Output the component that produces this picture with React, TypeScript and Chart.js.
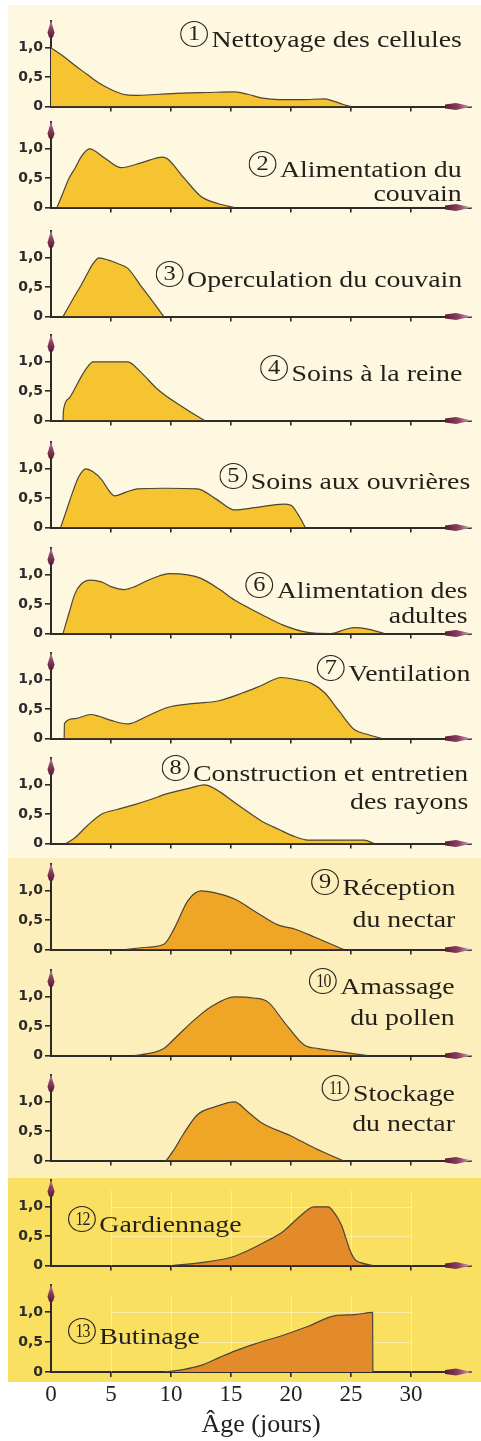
import React, { useEffect, useRef } from "react";
import { Chart, registerables } from "chart.js";

Chart.register(...registerables);

// ---------- data ----------
const xTicks = [0, 5, 10, 15, 20, 25, 30];
const yTicks = [0, 0.5, 1];
const xAxisTitle = "Âge (jours)";

const ageCleaning = [0, 1, 2, 3, 4, 5, 6, 7, 9, 11, 13, 15.3, 16.4, 17.5, 19, 21, 22.8, 23.6, 24.3, 25];
const cleaning = [1, 0.86, 0.7, 0.55, 0.4, 0.29, 0.21, 0.19, 0.21, 0.23, 0.24, 0.25, 0.21, 0.15, 0.12, 0.12, 0.13, 0.09, 0.04, 0];

const ageBroodFeeding = [0.5, 1, 1.5, 2, 2.5, 3.2, 4.5, 5.8, 7.5, 9.3, 9.7, 11.1, 12.5, 13.9, 15.3];
const broodFeeding = [0, 0.25, 0.5, 0.67, 0.86, 1.0, 0.84, 0.68, 0.76, 0.86, 0.83, 0.5, 0.19, 0.07, 0];

const ageCapping = [1, 1.5, 2, 2.5, 3, 3.5, 4, 4.8, 5.6, 6.4, 7.5, 8.5, 9.4];
const capping = [0, 0.18, 0.36, 0.53, 0.72, 0.9, 1.0, 0.96, 0.9, 0.82, 0.52, 0.25, 0];

const ageQueenCare = [1, 1.05, 1.5, 2, 2.5, 3, 3.5, 6.4, 7.5, 8.9, 10.9, 12.8];
const queenCare = [0, 0.19, 0.38, 0.55, 0.74, 0.9, 1.0, 1.0, 0.82, 0.53, 0.24, 0];

const ageWorkerCare = [0.8, 1.3, 1.8, 2.3, 2.9, 3.5, 4.2, 4.9, 5.3, 6.2, 7.2, 9.5, 12.2, 13.8, 15.3, 17, 19.4, 20, 20.6, 21.2];
const workerCare = [0, 0.3, 0.6, 0.86, 1.0, 0.95, 0.82, 0.61, 0.54, 0.6, 0.66, 0.67, 0.66, 0.48, 0.3, 0.34, 0.4, 0.38, 0.22, 0];

const ageAdultFeeding = [1, 1.5, 2, 2.5, 3.3, 4.2, 5, 6.1, 7, 8, 9, 9.8, 11.4, 12.5, 14, 15.3, 17.5, 19.4, 21.4, 23.3, 24.5, 25.3, 26.3, 27.8];
const adultFeeding = [0, 0.35, 0.68, 0.84, 0.91, 0.88, 0.8, 0.75, 0.8, 0.9, 0.98, 1.02, 1.0, 0.94, 0.76, 0.57, 0.33, 0.14, 0.02, 0, 0.07, 0.1, 0.08, 0];

const ageVentilation = [1.1, 1.12, 2, 3.3, 4, 5, 6.4, 8, 9.7, 12, 13.9, 16, 17.5, 19.2, 20.5, 21.7, 22.8, 24, 25.3, 26.4, 27.6];
const ventilation = [0, 0.26, 0.34, 0.41, 0.38, 0.31, 0.25, 0.38, 0.53, 0.6, 0.64, 0.78, 0.9, 1.04, 1.0, 0.94, 0.78, 0.47, 0.15, 0.07, 0];

const ageComb = [1.25, 2, 3, 4.2, 5.5, 6.9, 8.3, 9.7, 11.3, 12.8, 13.6, 15.5, 17.5, 19, 20.3, 21.4, 26.1, 26.9];
const comb = [0, 0.1, 0.3, 0.5, 0.58, 0.66, 0.75, 0.85, 0.93, 1.0, 0.94, 0.67, 0.39, 0.24, 0.12, 0.06, 0.06, 0];

const ageNectarReception = [6.1, 8, 9.4, 10.3, 11.4, 12.5, 13.6, 15.3, 17, 18.9, 20.3, 22, 24.4];
const nectarReception = [0, 0.04, 0.09, 0.37, 0.83, 1.0, 0.97, 0.86, 0.65, 0.42, 0.35, 0.21, 0];

const agePollenPacking = [6.9, 8.5, 9.4, 10.5, 11.9, 13.4, 15.3, 16.9, 18.1, 19.4, 21.1, 22.3, 23.6, 26.4];
const pollenPacking = [0, 0.05, 0.12, 0.33, 0.6, 0.84, 1.0, 0.98, 0.91, 0.58, 0.18, 0.12, 0.08, 0];

const ageNectarStorage = [9.6, 10.3, 11, 12.2, 13.6, 15.3, 16.3, 17.5, 20, 22, 24.3];
const nectarStorage = [0, 0.2, 0.44, 0.78, 0.91, 1.0, 0.85, 0.65, 0.42, 0.21, 0];

const ageGuarding = [10.1, 12.5, 15.3, 18.1, 19.4, 20.8, 21.9, 23.1, 23.6, 24.2, 24.6, 24.9, 25.3, 25.8, 26.9];
const guarding = [0, 0.05, 0.16, 0.43, 0.59, 0.85, 1.0, 1.0, 0.9, 0.69, 0.45, 0.27, 0.11, 0.05, 0];

const ageForaging = [9.4, 11, 12.5, 14, 15.3, 17, 19.4, 21.5, 23.6, 25.3, 26.8, 26.82];
const foraging = [0, 0.04, 0.11, 0.24, 0.35, 0.47, 0.62, 0.77, 0.94, 0.96, 1.0, 0];

const taskTitles: string[][] = [
  ["Nettoyage des cellules"],
  ["Alimentation du", "couvain"],
  ["Operculation du couvain"],
  ["Soins à la reine"],
  ["Soins aux ouvrières"],
  ["Alimentation des", "adultes"],
  ["Ventilation"],
  ["Construction et entretien", "des rayons"],
  ["Réception", "du nectar"],
  ["Amassage", "du pollen"],
  ["Stockage", "du nectar"],
  ["Gardiennage"],
  ["Butinage"],
];

const taskAges = [
  ageCleaning, ageBroodFeeding, ageCapping, ageQueenCare, ageWorkerCare, ageAdultFeeding,
  ageVentilation, ageComb, ageNectarReception, agePollenPacking, ageNectarStorage, ageGuarding, ageForaging,
];
const taskValues = [
  cleaning, broodFeeding, capping, queenCare, workerCare, adultFeeding,
  ventilation, comb, nectarReception, pollenPacking, nectarStorage, guarding, foraging,
];

// ---------- layout / style ----------
const W = 481;
const H = 1441;
const baselines = [107.5, 209, 317.5, 422, 529, 635, 739.5, 844.5, 950.5, 1056.5, 1161.5, 1266.5, 1372];
const toneOf = [0, 0, 0, 0, 0, 0, 0, 0, 1, 1, 1, 2, 2];
const fillColors = ["#f6c430", "#efa626", "#e38b2a"];
const bands = [
  { top: 5, bottom: 858, color: "#fdf8df" },
  { top: 858, bottom: 1178, color: "#fcefbb" },
  { top: 1178, bottom: 1382, color: "#f9e060" },
];
const labelBaselines = [43, 171, 283, 377, 485, 593, 677, 777, 893, 992, 1098, 1228, 1340];
const labelGaps = [28, 24, 28, 28, 28, 25, 28, 28, 32, 31, 30, 28, 28];
const labelRight = [462, 462, 462, 462, 470, 468, 470, 468, 455, 455, 455, 0, 0];
const labelLeft = [0, 0, 0, 0, 0, 0, 0, 0, 0, 0, 0, 68, 68];

const AXIS = "#2e2a2a";
const SERIF = '"Liberation Serif", "Times New Roman", serif';

const arrowPlugin = {
  id: "axisArrows",
  afterDraw(chart: any) {
    const { ctx, chartArea } = chart;
    const { left, right, top, bottom } = chartArea;
    ctx.save();
    // x arrow
    const gx = ctx.createLinearGradient(right - 26, 0, right, 0);
    gx.addColorStop(0, "#5e1a34");
    gx.addColorStop(0.55, "#8c4466");
    gx.addColorStop(1, "#cdb2bf");
    ctx.fillStyle = gx;
    ctx.beginPath();
    ctx.moveTo(right + 1, bottom);
    ctx.lineTo(right - 15, bottom - 3.5);
    ctx.lineTo(right - 26, bottom - 2);
    ctx.lineTo(right - 26, bottom + 2);
    ctx.lineTo(right - 15, bottom + 3.5);
    ctx.closePath();
    ctx.fill();
    // y arrow
    const gy = ctx.createLinearGradient(0, top + 16, 0, top);
    gy.addColorStop(0, "#5e1a34");
    gy.addColorStop(0.6, "#8c4466");
    gy.addColorStop(1, "#b88aa2");
    ctx.fillStyle = gy;
    ctx.beginPath();
    ctx.moveTo(left, top - 1);
    ctx.lineTo(left + 3.5, top + 11);
    ctx.lineTo(left + 2, top + 16);
    ctx.lineTo(left - 2, top + 16);
    ctx.lineTo(left - 3.5, top + 11);
    ctx.closePath();
    ctx.fill();
    ctx.restore();
  },
};

const faintGridPlugin = {
  id: "faintGrid",
  beforeDatasetsDraw(chart: any, _args: any, opts: any) {
    if (!opts || !opts.show) return;
    const { ctx, chartArea, scales } = chart;
    ctx.save();
    ctx.strokeStyle = "rgba(255,255,255,0.45)";
    ctx.lineWidth = 1;
    const x0 = scales.x.getPixelForValue(5);
    const x1 = scales.x.getPixelForValue(30);
    xTicks.filter((v) => v > 0).forEach((v) => {
      const px = Math.round(scales.x.getPixelForValue(v)) + 0.5;
      ctx.beginPath();
      ctx.moveTo(px, chartArea.top + 10);
      ctx.lineTo(px, chartArea.bottom);
      ctx.stroke();
    });
    yTicks.filter((v) => v > 0).forEach((v) => {
      const py = Math.round(scales.y.getPixelForValue(v)) + 0.5;
      ctx.beginPath();
      ctx.moveTo(x0, py);
      ctx.lineTo(x1, py);
      ctx.stroke();
    });
    ctx.restore();
  },
};

function Panel({ index }: { index: number }) {
  const ref = useRef<HTMLCanvasElement | null>(null);
  const isLast = index === taskTitles.length - 1;
  const top = Math.round(baselines[index]) - 97;
  const height = isLast ? H - top : 106;

  useEffect(() => {
    if (!ref.current) return;
    const ages = taskAges[index];
    const values = taskValues[index];
    const chart = new Chart(ref.current, {
      type: "line",
      data: {
        datasets: [
          {
            data: ages.map((a, k) => ({ x: a, y: values[k] })),
            fill: "origin",
            backgroundColor: fillColors[toneOf[index]],
            borderColor: "#4d4536",
            borderWidth: 1.2,
            pointRadius: 0,
            cubicInterpolationMode: "monotone",
          },
        ],
      },
      options: {
        animation: false,
        responsive: false,
        events: [],
        layout: { padding: { top: 6, right: 10, left: 0, bottom: 0 } },
        plugins: {
          legend: { display: false },
          tooltip: { enabled: false },
          faintGrid: { show: toneOf[index] === 2 },
        } as any,
        scales: {
          x: {
            type: "linear",
            min: 0,
            max: 35,
            z: 1,
            afterBuildTicks: (s: any) => {
              s.ticks = xTicks.map((v) => ({ value: v }));
            },
            afterFit: (s: any) => {
              s.height = isLast ? height - 97 : 9;
            },
            grid: {
              drawOnChartArea: false,
              tickLength: 5,
              lineWidth: 1.6,
              color: (c: any) => (c.tick && c.tick.value === 0 ? "rgba(0,0,0,0)" : AXIS),
            },
            border: { display: true, color: AXIS, width: 2 },
            ticks: {
              display: isLast,
              padding: 4,
              autoSkip: false,
              maxRotation: 0,
              color: "#222",
              font: { family: SERIF, size: 23 },
              callback: (v: any) => String(v),
            },
            title: {
              display: isLast,
              text: xAxisTitle,
              color: "#222",
              font: { family: SERIF, size: 26 },
              padding: { top: 0, bottom: 0 },
            },
          },
          y: {
            type: "linear",
            min: 0,
            max: 1.45,
            z: 1,
            afterBuildTicks: (s: any) => {
              s.ticks = yTicks.map((v) => ({ value: v }));
            },
            afterFit: (s: any) => {
              s.width = 51;
            },
            grid: { drawOnChartArea: false, tickLength: 6, lineWidth: 1.6, color: AXIS },
            border: { display: true, color: AXIS, width: 2 },
            ticks: {
              padding: 2,
              color: "#2b2b2b",
              font: { family: '"DejaVu Sans", sans-serif', size: 14, weight: "bold" },
              callback: (v: any) => (v === 0 ? "0" : Number(v).toFixed(1).replace(".", ",")),
            },
          },
        },
      } as any,
      plugins: [faintGridPlugin, arrowPlugin],
    });
    return () => chart.destroy();
  }, [index]);

  return (
    <canvas
      ref={ref}
      width={W}
      height={height}
      style={{ position: "absolute", left: 0, top, width: W, height, display: "block", zIndex: 1 }}
    />
  );
}

function TaskLabel({ index }: { index: number }) {
  const lines = taskTitles[index];
  const fontSize = 24;
  const gap = labelGaps[index];
  const top = labelBaselines[index] - ((gap - 1.107 * fontSize) / 2 + 0.891 * fontSize);
  const alignRight = labelRight[index] > 0;
  const num = String(index + 1);
  const pos: any = alignRight ? { right: W - labelRight[index] } : { left: labelLeft[index] };
  return (
    <div
      style={{
        position: "absolute",
        top,
        ...pos,
        fontFamily: SERIF,
        fontSize,
        lineHeight: `${gap}px`,
        color: "#231f1a",
        whiteSpace: "nowrap",
        textAlign: alignRight ? "right" : "left",
        transform: "scaleX(1.16)",
        transformOrigin: alignRight ? "right top" : "left top",
        zIndex: 2,
      }}
    >
      {lines.map((ln, k) => (
        <div key={k}>
          {k === 0 && (
            <span
              style={{
                display: "inline-block",
                boxSizing: "border-box",
                width: 24,
                height: 26,
                border: "1.4px solid #2a2520",
                borderRadius: "50%",
                textAlign: "center",
                lineHeight: "23px",
                fontSize: num.length > 1 ? 19 : 21,
                marginRight: 3,
                verticalAlign: "baseline",
                overflow: "hidden",
              }}
            >
              <span
                style={{
                  display: "inline-block",
                  transform: num.length > 1 ? "scaleX(0.72)" : "none",
                  letterSpacing: num.length > 1 ? -1 : 0,
                }}
              >
                {num}
              </span>
            </span>
          )}
          {ln}
        </div>
      ))}
    </div>
  );
}

export default function App() {
  return (
    <div
      style={{
        position: "absolute",
        left: 0,
        top: 0,
        width: W,
        height: H,
        overflow: "hidden",
        background: "#ffffff",
      }}
    >
      {bands.map((b, k) => (
        <div
          key={k}
          style={{
            position: "absolute",
            left: 8,
            right: 0,
            top: b.top,
            height: b.bottom - b.top,
            background: b.color,
            zIndex: 0,
          }}
        />
      ))}
      {taskTitles.map((_, i) => (
        <Panel key={i} index={i} />
      ))}
      {taskTitles.map((_, i) => (
        <TaskLabel key={"l" + i} index={i} />
      ))}
    </div>
  );
}
